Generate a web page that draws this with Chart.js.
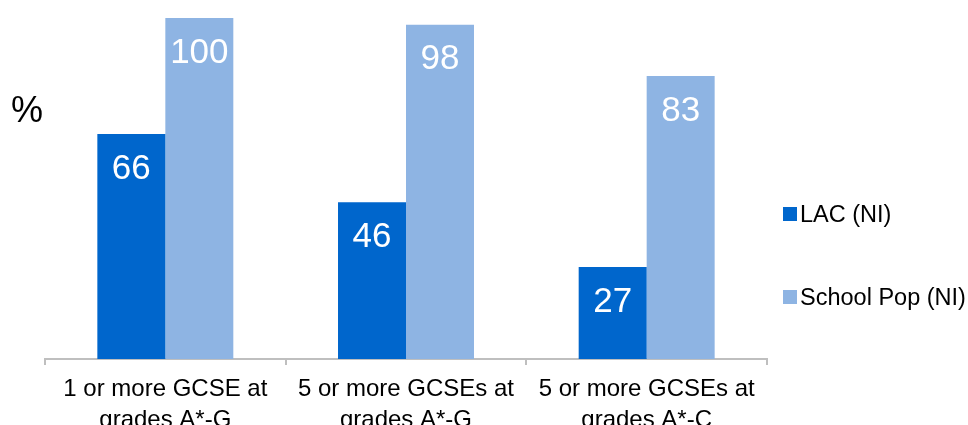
<!DOCTYPE html>
<html>
<head>
<meta charset="utf-8">
<script src="https://cdn.jsdelivr.net/npm/chart.js@4.4.0/dist/chart.umd.min.js"></script>
<style>
html,body{margin:0;padding:0;background:#fff;overflow:hidden;}
#wrap{width:968px;height:425px;position:relative;}
</style>
</head>
<body>
<div id="wrap"><canvas id="c" width="968" height="425"></canvas></div>
<script>
const categories = [
  ['1 or more GCSE at', 'grades A*-G'],
  ['5 or more GCSEs at', 'grades A*-G'],
  ['5 or more GCSEs at', 'grades A*-C']
];
const seriesNames = ['LAC (NI)', 'School Pop (NI)'];
const lacValues = [66, 46, 27];
const schoolPopValues = [100, 98, 83];
const seriesColors = ['#0066CC', '#8EB4E3'];
const axisUnit = '%';

const FONT = '"Liberation Sans", Arial, sans-serif';

const valueLabels = {
  id: 'valueLabels',
  afterDatasetsDraw(chart) {
    const ctx = chart.ctx;
    ctx.save();
    ctx.fillStyle = '#ffffff';
    ctx.font = '35px ' + FONT;
    ctx.textAlign = 'center';
    ctx.textBaseline = 'middle';
    chart.data.datasets.forEach((ds, di) => {
      const meta = chart.getDatasetMeta(di);
      meta.data.forEach((bar, i) => {
        ctx.fillText(String(ds.data[i]), bar.x, bar.y + 35);
      });
    });
    ctx.restore();
  }
};

const extras = {
  id: 'extras',
  afterDraw(chart) {
    const ctx = chart.ctx;
    ctx.save();
    // unit label
    ctx.fillStyle = '#000000';
    ctx.font = '36px ' + FONT;
    ctx.textAlign = 'left';
    ctx.textBaseline = 'alphabetic';
    ctx.fillText(axisUnit, 11, 122);
    // legend
    const baselines = [222, 305];
    chart.data.datasets.forEach((ds, i) => {
      ctx.fillStyle = ds.backgroundColor;
      ctx.fillRect(783, baselines[i] - 15, 14, 14);
      ctx.fillStyle = '#000000';
      ctx.font = '23.5px ' + FONT;
      ctx.textBaseline = 'alphabetic';
      ctx.fillText(ds.label, 800, baselines[i]);
    });
    ctx.restore();
  }
};

new Chart(document.getElementById('c'), {
  type: 'bar',
  data: {
    labels: categories,
    datasets: [
      { label: seriesNames[0], data: lacValues, backgroundColor: seriesColors[0] },
      { label: seriesNames[1], data: schoolPopValues, backgroundColor: seriesColors[1] }
    ]
  },
  options: {
    responsive: false,
    animation: false,
    devicePixelRatio: 1,
    layout: { padding: { left: 45, right: 201, top: 18, bottom: 0 } },
    datasets: { bar: { categoryPercentage: 0.565, barPercentage: 1.0 } },
    plugins: { legend: { display: false }, tooltip: { enabled: false } },
    scales: {
      x: {
        grid: {
          offset: true,
          drawOnChartArea: false,
          drawTicks: true,
          tickLength: 6,
          color: '#BFBFBF',
          lineWidth: 2
        },
        border: { display: true, color: '#BFBFBF', width: 2 },
        ticks: {
          color: '#000000',
          padding: 9,
          maxRotation: 0,
          autoSkip: false,
          font: { family: FONT, size: 24, lineHeight: 1.3 }
        },
        afterFit(scale) { scale.height = 66; }
      },
      y: {
        display: false,
        min: 0,
        max: 100
      }
    }
  },
  plugins: [valueLabels, extras]
});
</script>
</body>
</html>
